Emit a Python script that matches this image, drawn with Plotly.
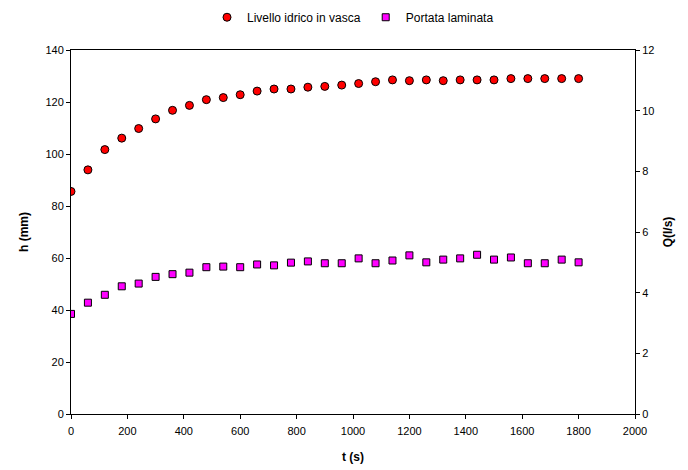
import plotly.graph_objects as go

# tempo (s), campioni ogni 60 s
t_s = [0, 60, 120, 180, 240, 300, 360, 420, 480, 540, 600, 660, 720, 780, 840, 900,
       960, 1020, 1080, 1140, 1200, 1260, 1320, 1380, 1440, 1500, 1560, 1620, 1680, 1740, 1800]

# livello idrico in vasca h (mm)
livello_mm = [85.6, 93.9, 101.7, 106.1, 109.8, 113.5, 116.8, 118.7, 120.9, 121.7, 122.8,
              124.2, 125.0, 125.0, 125.7, 126.0, 126.5, 127.1, 127.8, 128.5, 128.2, 128.5,
              128.2, 128.5, 128.5, 128.5, 129.0, 129.0, 129.0, 129.0, 129.0]

# portata laminata Q (l/s)
portata_ls = [3.30, 3.67, 3.93, 4.21, 4.30, 4.52, 4.61, 4.66, 4.84, 4.86, 4.84,
              4.93, 4.90, 4.99, 5.03, 4.97, 4.97, 5.13, 4.97, 5.06, 5.23, 5.00,
              5.09, 5.13, 5.25, 5.09, 5.16, 4.97, 4.97, 5.09, 5.00]

font_base = "Liberation Sans, Arial, sans-serif"

fig = go.Figure()

fig.add_trace(go.Scatter(
    x=t_s, y=livello_mm, mode="markers", name="Livello idrico in vasca",
    marker=dict(symbol="circle", size=8, color="#FF0000", line=dict(color="#000000", width=1)),
))

fig.add_trace(go.Scatter(
    x=t_s, y=portata_ls, mode="markers", name="Portata laminata", yaxis="y2",
    marker=dict(symbol="square", size=7, color="#FF00FF", line=dict(color="#000000", width=1)),
))

asse = dict(
    showgrid=False, zeroline=False, showline=True, linecolor="#000000", linewidth=1,
    ticks="outside", ticklen=4, tickcolor="#000000", automargin=False,
    tickfont=dict(family=font_base, size=11, color="#000000"),
)

# la pagina html aggiunge 8 px di margine al body: figura 680x462
fig.update_layout(
    width=680, height=462,
    margin=dict(l=63, r=53, t=42, b=56, autoexpand=False),
    paper_bgcolor="#FFFFFF", plot_bgcolor="#FFFFFF",
    font=dict(family=font_base, color="#000000"),
    showlegend=True,
    legend=dict(
        orientation="h", x=0.5, xanchor="center", y=1.09, yanchor="middle",
        font=dict(family=font_base, size=12), itemwidth=30, tracegroupgap=0,
    ),
    xaxis=dict(
        asse, range=[0, 2000], dtick=200, mirror=True, ticklabelstandoff=3,
        title=dict(text="<b>t (s)</b>", font=dict(family=font_base, size=12), standoff=16),
    ),
    yaxis=dict(
        asse, range=[0, 140], dtick=20,
        title=dict(text="<b>h (mm)</b>", font=dict(family=font_base, size=12), standoff=14),
    ),
    yaxis2=dict(
        asse, range=[0, 12], dtick=2, overlaying="y", side="right",
        title=dict(text="<b>Q(l/s)</b>", font=dict(family=font_base, size=12), standoff=10),
    ),
)

fig.write_html("out.html")
